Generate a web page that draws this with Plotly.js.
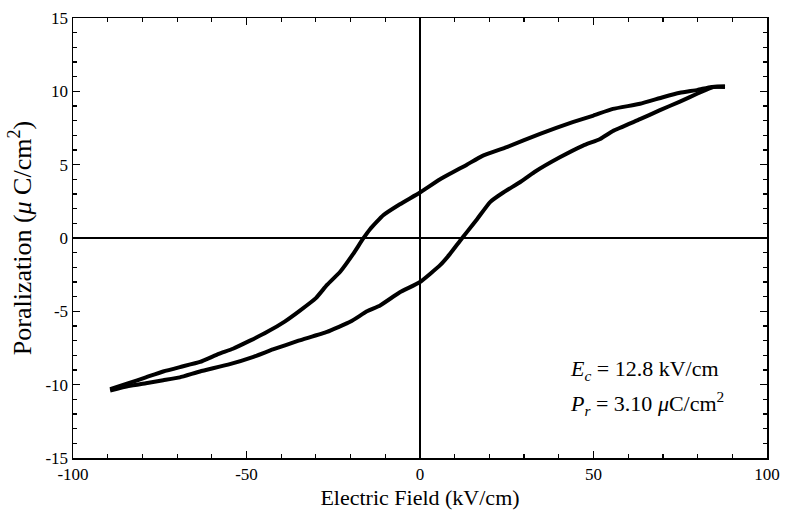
<!DOCTYPE html>
<html><head><meta charset="utf-8">
<script src="https://cdn.plot.ly/plotly-3.0.1.min.js"></script>
<style>
html,body{margin:0;padding:0;background:#fff}
#chart text, #chart tspan { font-family: 'Liberation Serif', serif !important; }
</style>
</head><body><div id="chart" style="width:786px;height:511px"></div>
<script>
// Upper branch: field decreasing from +88 to -89 kV/cm
const upperField = [87.9, 84, 80, 74.9, 70, 63.4, 55.6, 50, 44, 34.6, 25, 18, 13.5, 5.8, 0, -5.8, -10.6, -14.4, -16.4, -19.3, -23, -26.8, -30, -34.6, -39, -44, -49, -53.9, -58, -63.4, -69.2, -74, -79, -84, -89.3];
const upperPol   = [10.35, 10.3, 10.1, 9.9, 9.6, 9.15, 8.8, 8.35, 7.9, 7.1, 6.2, 5.6, 5.0, 4.0, 3.1, 2.3, 1.55, 0.6, -0.05, -1.1, -2.3, -3.2, -4.1, -4.95, -5.7, -6.4, -7.0, -7.55, -7.9, -8.45, -8.8, -9.1, -9.5, -9.9, -10.3];
// Lower branch: field increasing from -89 to +88 kV/cm
const lowerField = [-89.3, -84, -79, -74, -69.2, -63.4, -54.8, -48, -42.4, -35, -26.8, -20, -15.3, -11.5, -5.8, 0, 5.8, 8.6, 11.5, 13.5, 16.5, 20.2, 24, 28.8, 33, 40.3, 47, 51.9, 55.6, 63.4, 69, 74.9, 80, 84.5, 87.9];
const lowerPol   = [-10.4, -10.1, -9.9, -9.7, -9.5, -9.1, -8.6, -8.1, -7.6, -7.0, -6.4, -5.7, -5.0, -4.6, -3.7, -3.0, -1.85, -1.1, -0.2, 0.4, 1.3, 2.45, 3.1, 3.8, 4.5, 5.5, 6.3, 6.75, 7.3, 8.1, 8.7, 9.3, 9.85, 10.3, 10.3];

const xTickVals = [-100, -50, 0, 50, 100];
const xTickText = ["-100", "-50", "0", "50", "100"];
const xMinorVals = [-90, -80, -70, -60, -40, -30, -20, -10, 10, 20, 30, 40, 60, 70, 80, 90];
const yTickVals = [-15, -10, -5, 0, 5, 10, 15];
const yTickText = ["-15", "-10", "-5", "0", "5", "10", "15"];

const fontFam = 'Liberation Serif';

const lineStyle = {color: '#000', width: 4, shape: 'spline', smoothing: 0.4};
const traces = [
  {x: upperField, y: upperPol, mode: 'lines', line: lineStyle, hoverinfo: 'skip'},
  {x: lowerField, y: lowerPol, mode: 'lines', line: lineStyle, hoverinfo: 'skip'}
];

function axisBase() {
  return {
    showgrid: false, zeroline: true, zerolinecolor: '#000', zerolinewidth: 1.5,
    showline: true, linecolor: '#000', linewidth: 1.5, mirror: 'ticks',
    ticks: 'inside', ticklen: 7, tickwidth: 1.5, tickcolor: '#000',
    tickfont: {family: fontFam, size: 17, color: '#000'}, tickmode: 'array'
  };
}

const xa = axisBase();
xa.range = [-100, 100];
xa.tickvals = xTickVals;
xa.ticktext = xTickText;
xa.minor = {ticks: 'inside', tickvals: xMinorVals, ticklen: 4, tickwidth: 1.2, tickcolor: '#000'};
xa.title = {text: 'Electric Field (kV/cm)', font: {family: fontFam, size: 22, color: '#000'}, standoff: 6};

const ya = axisBase();
ya.range = [-15, 15];
ya.tickvals = yTickVals;
ya.ticktext = yTickText;
ya.minor = {ticks: 'inside', dtick: 1, ticklen: 4, tickwidth: 1.2, tickcolor: '#000'};
ya.title = {text: 'Poralization (<i>μ</i> C/cm<sup>2</sup>)', font: {family: fontFam, size: 26, color: '#000'}, standoff: 6};

const layout = {
  width: 786, height: 511,
  margin: {l: 73, r: 19, t: 18, b: 53},
  paper_bgcolor: '#fff', plot_bgcolor: '#fff',
  showlegend: false,
  font: {family: fontFam, color: '#000'},
  xaxis: xa,
  yaxis: ya,
  annotations: [
    {xref: 'paper', yref: 'paper', x: 0.713, y: 0.2, xanchor: 'left', yanchor: 'middle', showarrow: false,
     text: '<i>E<sub>c</sub></i> = 12.8 kV/cm', font: {family: fontFam, size: 22, color: '#000'}},
    {xref: 'paper', yref: 'paper', x: 0.713, y: 0.123, xanchor: 'left', yanchor: 'middle', showarrow: false,
     text: '<i>P<sub>r</sub></i> = 3.10 <i>μ</i>C/cm<sup>2</sup>', font: {family: fontFam, size: 22, color: '#000'}}
  ]
};

Plotly.newPlot('chart', traces, layout, {displayModeBar: false, staticPlot: true});
</script>
</body></html>
